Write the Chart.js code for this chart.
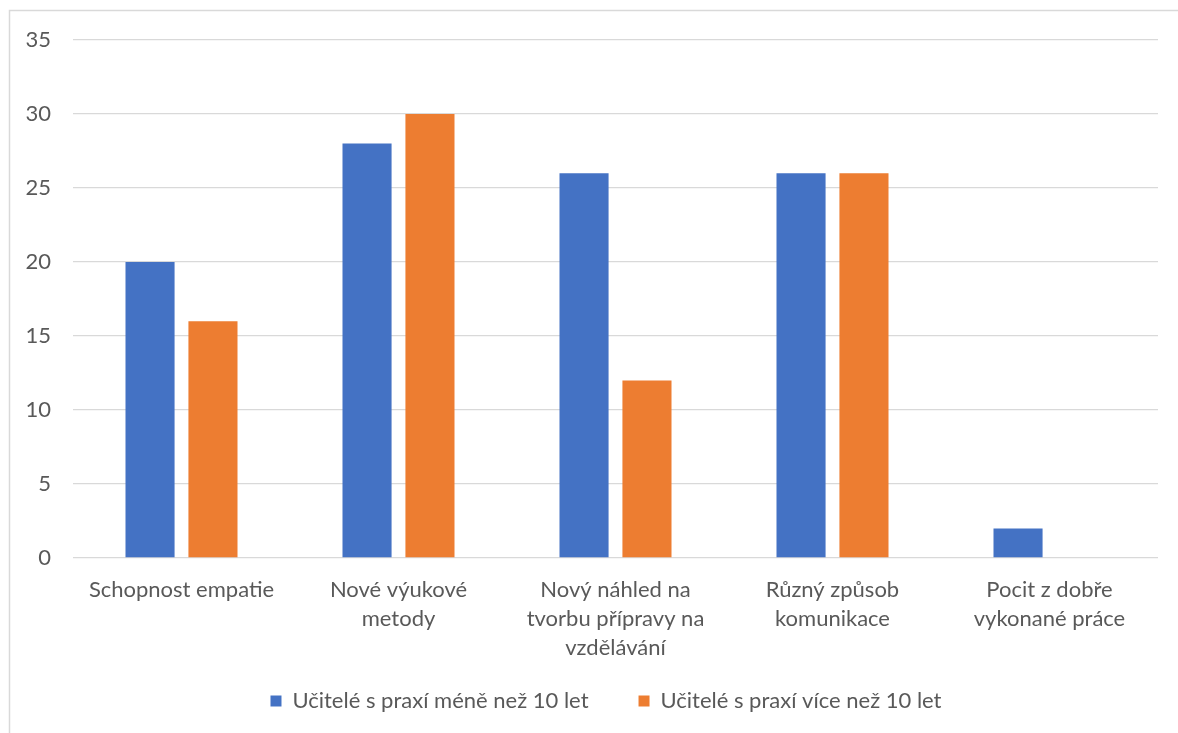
<!DOCTYPE html>
<html lang="cs">
<head>
<meta charset="utf-8">
<script src="https://cdn.jsdelivr.net/npm/chart.js@4.4.1/dist/chart.umd.min.js"></script>
<style>
  html, body { margin: 0; padding: 0; background: #ffffff; }
  #wrap { position: relative; width: 1178px; height: 733px; }
</style>
</head>
<body>
<div id="wrap"><canvas id="chart" width="1178" height="733"></canvas></div>
<script>
// Categories (multi-line axis labels)
const categories = [
  ["Schopnost empatie"],
  ["Nové výukové", "metody"],
  ["Nový náhled na", "tvorbu přípravy na", "vzdělávání"],
  ["Různý způsob", "komunikace"],
  ["Pocit z dobře", "vykonané práce"]
];

// Series
const seriesLessLabel = "Učitelé s praxí méně než 10 let";
const seriesLess = [20, 28, 26, 26, 2];

const seriesMoreLabel = "Učitelé s praxí více než 10 let";
const seriesMore = [16, 30, 12, 26, 0];

// Value axis
const yTicks = [0, 5, 10, 15, 20, 25, 30, 35];

const textColor = "#595959";
const gridColor = "#d9d9d9";
const fontFamily = "Lato, 'Noto Sans', sans-serif";
const fontSize = 22;

// Light frame around the chart (top and left edges visible)
const framePlugin = {
  id: "frame",
  beforeDraw(chart) {
    const ctx = chart.ctx;
    ctx.save();
    ctx.fillStyle = "#ffffff";
    ctx.fillRect(0, 0, chart.width, chart.height);
    ctx.strokeStyle = "#d9d9d9";
    ctx.lineWidth = 1.5;
    ctx.beginPath();
    ctx.moveTo(9.5, chart.height);
    ctx.lineTo(9.5, 10.5);
    ctx.lineTo(chart.width, 10.5);
    ctx.stroke();
    ctx.restore();
  }
};

// Let long multi-line tick labels run past their scale box instead of being clipped
const noLabelClipPlugin = {
  id: "noLabelClip",
  afterLayout(chart) {
    Object.values(chart.scales).forEach(scale => {
      scale._computeLabelArea = () => undefined;
    });
  }
};

new Chart(document.getElementById("chart"), {
  type: "bar",
  data: {
    labels: categories,
    datasets: [
      {
        label: seriesLessLabel,
        data: seriesLess,
        backgroundColor: "#4472C4",
        borderWidth: 0,
        categoryPercentage: 0.58,
        barPercentage: 0.78
      },
      {
        label: seriesMoreLabel,
        data: seriesMore,
        backgroundColor: "#ED7D31",
        borderWidth: 0,
        categoryPercentage: 0.58,
        barPercentage: 0.78
      }
    ]
  },
  options: {
    responsive: false,
    animation: false,
    layout: { padding: { top: 40, right: 20, bottom: 11, left: 54 } },
    font: { family: fontFamily },
    plugins: {
      legend: {
        position: "bottom",
        labels: {
          color: textColor,
          font: { family: fontFamily, size: fontSize },
          boxWidth: 11,
          boxHeight: 11,
          padding: 50
        }
      },
      tooltip: { enabled: false }
    },
    scales: {
      x: {
        grid: { display: false, drawTicks: false },
        border: { display: false },
        afterFit(scale) {
          scale.height = 82;
        },
        ticks: {
          color: textColor,
          font: { family: fontFamily, size: fontSize, lineHeight: 1.3 },
          padding: 18,
          maxRotation: 0,
          minRotation: 0,
          autoSkip: false
        }
      },
      y: {
        min: 0,
        max: 35,
        afterBuildTicks(scale) {
          scale.ticks = yTicks.map(v => ({ value: v }));
        },
        afterFit(scale) {
          scale.width = 19;
        },
        grid: { color: gridColor, lineWidth: 1.3, drawTicks: false },
        border: { display: false },
        ticks: {
          color: textColor,
          font: { family: fontFamily, size: fontSize },
          padding: 22
        }
      }
    }
  },
  plugins: [framePlugin, noLabelClipPlugin]
});
</script>
</body>
</html>
